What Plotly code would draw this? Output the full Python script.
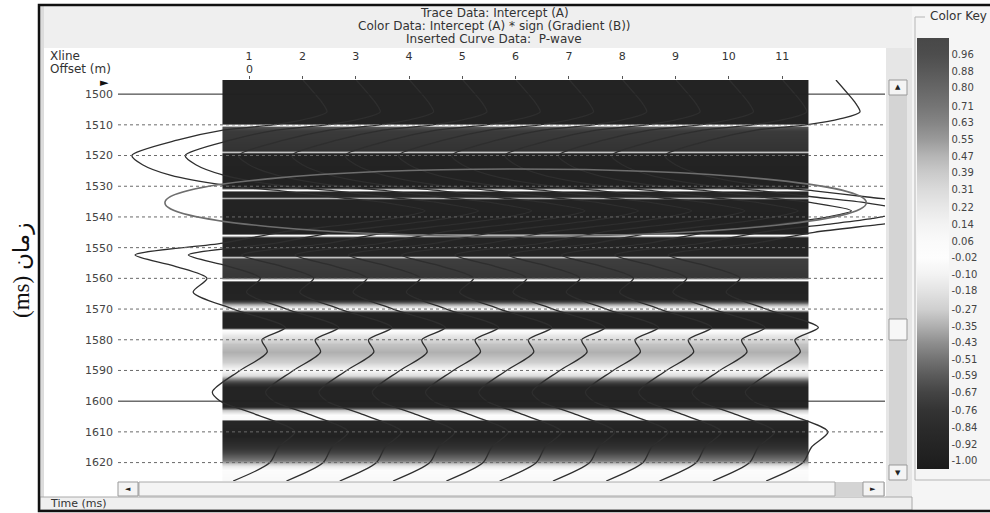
import plotly.graph_objects as go

W, H = 990, 513

# ---------------- data ----------------
xlines = list(range(1, 12))
offset_labels = ["0"]
y_ticks = [1500, 1510, 1520, 1530, 1540, 1550, 1560, 1570, 1580, 1590, 1600, 1610, 1620]
solid_ticks = [1500, 1600]
time_range = [1495.4, 1626.0]
xline_range = [-1.46, 12.93]

# wiggle (trace data: intercept) - same waveform on every xline, amplitude in xline units
trace_time = [1495.4, 1500, 1503, 1505.8, 1508, 1510, 1511.7, 1515, 1520, 1523, 1526.4, 1529.6,
              1531.5, 1533.5, 1535.5, 1538, 1540.5, 1542.5, 1545, 1548.5, 1552.4, 1556, 1560, 1564.5,
              1570, 1576, 1580, 1584, 1590, 1597, 1600, 1604, 1610, 1615, 1620, 1626]
trace_amp = [1.01, 1.24, 1.38, 1.46, 1.10, 0.45, -0.49, -1.35, -2.20, -2.00, -1.48, -0.49,
             0.6, 1.6, 2.6, 3.3, 2.7, 1.8, 0.6, -0.49, -2.14, -1.40, -0.79, -1.05,
             -0.30, 0.68, 0.24, 0.34, -0.17, -0.69, -0.54, 0.08, 0.86, 0.55, 0.39, -0.30]

# colour data: intercept * sign(gradient), per time sample
color_time = [1495.4, 1509.3, 1510.0, 1510.8, 1512.0, 1518.2, 1518.9, 1519.6, 1530.3, 1531.1,
              1531.9, 1533.2, 1533.9, 1534.6, 1545.2, 1545.9, 1546.7, 1552.3, 1552.9, 1553.6,
              1559.6, 1560.4, 1561.2, 1566.8, 1568.4, 1570.0, 1571.3, 1575.8, 1576.8, 1578.5,
              1581.5, 1584.0, 1587.2, 1589.9, 1591.5, 1593.5, 1595.5, 1601.5, 1603.0, 1604.6,
              1605.7, 1606.4, 1611.5, 1616.0, 1619.2, 1621.0, 1622.5, 1626.0]
color_val = [-0.95, -0.95, -0.03, -0.62, -0.72, -0.76, -0.30, -0.95, -0.96, -0.03,
             -0.93, -0.90, -0.35, -0.95, -0.96, -0.03, -0.93, -0.93, -0.30, -0.70,
             -0.74, -0.04, -0.96, -0.93, -0.40, -0.03, -0.95, -0.96, -0.02, -0.15,
             -0.30, -0.35, -0.27, -0.06, -0.20, -0.60, -0.93, -0.93, -0.30, -0.03,
             -0.05, -0.90, -0.96, -0.72, -0.50, -0.15, -0.03, -0.06]

key_ticks = [0.96, 0.88, 0.80, 0.71, 0.63, 0.55, 0.47, 0.39, 0.31, 0.22, 0.14, 0.06, -0.02,
             -0.10, -0.18, -0.27, -0.35, -0.43, -0.51, -0.59, -0.67, -0.76, -0.84, -0.92, -1.00]
key_labels = ["%.2f" % v for v in key_ticks]
key_range = [-1.04, 1.04]

highlight_time = [1524.4, 1546.3]
highlight_xline = [-0.58, 12.58]

title_lines = ["Trace Data: Intercept (A)",
               "Color Data: Intercept (A) * sign (Gradient (B))",
               "Inserted Curve Data:  P-wave"]

# ---------------- style ----------------
cs_vals = [-1.04, -1.0, -0.92, -0.84, -0.76, -0.67, -0.59, -0.51, -0.43, -0.35, -0.27, -0.18,
           -0.10, -0.02, 0.06, 0.14, 0.22, 0.31, 0.39, 0.47, 0.55, 0.63, 0.71, 0.80, 0.88, 0.96, 1.04]
cs_cols = ['#1b1b1b', '#1f1f1f', '#252525', '#2b2b2b', '#333333', '#444444', '#5a5a5a', '#737373',
           '#8f8f8f', '#b0b0b0', '#cfcfcf', '#e3e3e3', '#f3f3f3', '#fdfdfd', '#fafafa', '#f3f3f3',
           '#e8e8e8', '#dadada', '#cacaca', '#b5b5b5', '#9a9a9a', '#858585', '#757575', '#666666',
           '#595959', '#4d4d4d', '#484848']
colorscale = [[(v - key_range[0]) / (key_range[1] - key_range[0]), c] for v, c in zip(cs_vals, cs_cols)]

FONT = "DejaVu Sans"


def px(x):
    return x / W


def py(y):
    return 1 - y / H


fig = go.Figure()

x_edges = [x - 0.5 for x in xlines] + [xlines[-1] + 0.5]
fig.add_trace(go.Heatmap(
    x=x_edges, y=color_time, z=[[v] * len(xlines) for v in color_val],
    zmin=key_range[0], zmax=key_range[1], zsmooth='best', colorscale=colorscale,
    hoverinfo='skip',
    colorbar=dict(x=px(917), xanchor='left', y=py(38), yanchor='top',
                  thickness=32, thicknessmode='pixels', len=(469 - 38) / H, lenmode='fraction',
                  xpad=0, ypad=0, outlinewidth=0, ticks='',
                  tickvals=key_ticks, ticktext=key_labels,
                  tickfont=dict(family=FONT, size=10, color='#444'))
))

for xl in xlines:
    fig.add_trace(go.Scatter(
        x=[xl + a for a in trace_amp], y=trace_time, mode='lines',
        line=dict(color='#2e2e2e', width=1.3, shape='spline', smoothing=0.8),
        hoverinfo='skip', showlegend=False))

shapes = []
# background panels
shapes += [
    dict(type='rect', xref='paper', yref='paper', x0=px(40), x1=px(912), y0=py(6), y1=py(48),
         fillcolor='#efefef', line_width=0, layer='below'),
    dict(type='rect', xref='paper', yref='paper', x0=px(40), x1=px(44), y0=py(6), y1=py(510),
         fillcolor='#dcdcdc', line_width=0, layer='below'),
    dict(type='rect', xref='paper', yref='paper', x0=px(886), x1=px(912), y0=py(48), y1=py(497),
         fillcolor='#e6e6e6', line_width=0, layer='below'),
    dict(type='rect', xref='paper', yref='paper', x0=px(912), x1=px(995), y0=py(6), y1=py(510),
         fillcolor='#f5f5f5', line_width=0, layer='below'),
    dict(type='rect', xref='paper', yref='paper', x0=px(40), x1=px(912), y0=py(497), y1=py(510),
         fillcolor='#efefef', line=dict(color='#aaaaaa', width=1), layer='below'),
    # colour key group box
    dict(type='path', xref='paper', yref='paper',
         path=f"M {px(925)},{py(17)} L {px(915)},{py(17)} L {px(915)},{py(480)} L {px(995)},{py(480)}",
         line=dict(color='#b5b5b5', width=1), layer='below'),
    # vertical scrollbar
    dict(type='rect', xref='paper', yref='paper', x0=px(889), x1=px(907), y0=py(80), y1=py(480),
         fillcolor='#d4d4d4', line_width=0, layer='above'),
    dict(type='rect', xref='paper', yref='paper', x0=px(889), x1=px(907), y0=py(80), y1=py(95),
         fillcolor='#f4f4f4', line=dict(color='#999', width=1), layer='above'),
    dict(type='rect', xref='paper', yref='paper', x0=px(889), x1=px(907), y0=py(465), y1=py(480),
         fillcolor='#f4f4f4', line=dict(color='#999', width=1), layer='above'),
    dict(type='rect', xref='paper', yref='paper', x0=px(889), x1=px(907), y0=py(319), y1=py(340),
         fillcolor='#f7f7f7', line=dict(color='#999', width=1), layer='above'),
    # horizontal scrollbar
    dict(type='rect', xref='paper', yref='paper', x0=px(118), x1=px(885), y0=py(482), y1=py(496),
         fillcolor='#d4d4d4', line_width=0, layer='above'),
    dict(type='rect', xref='paper', yref='paper', x0=px(139), x1=px(835), y0=py(482), y1=py(496),
         fillcolor='#f4f4f4', line=dict(color='#aaa', width=1), layer='above'),
    dict(type='rect', xref='paper', yref='paper', x0=px(118), x1=px(138), y0=py(482), y1=py(496),
         fillcolor='#f4f4f4', line=dict(color='#999', width=1), layer='above'),
    dict(type='rect', xref='paper', yref='paper', x0=px(863), x1=px(884), y0=py(482), y1=py(496),
         fillcolor='#f4f4f4', line=dict(color='#999', width=1), layer='above'),
    # outer border
    dict(type='rect', xref='paper', yref='paper', x0=px(39), x1=px(1000), y0=py(5), y1=py(511),
         line=dict(color='#111', width=2.5), layer='above'),
]
# horizontal time lines
for t in y_ticks:
    solid = t in solid_ticks
    shapes.append(dict(type='line', xref='paper', yref='y', x0=px(118), x1=px(885), y0=t, y1=t,
                       line=dict(color='#222' if solid else '#6a6a6a', width=1,
                                 dash='solid' if solid else 'dot'), layer='above'))
# highlight ellipse
shapes.append(dict(type='circle', xref='x', yref='y', x0=highlight_xline[0], x1=highlight_xline[1],
                   y0=highlight_time[0], y1=highlight_time[1],
                   line=dict(color='#6e6e6e', width=1.6), layer='above'))

ann = []
for i, s in enumerate(title_lines):
    ann.append(dict(text=s, x=px(494), y=py(13 + 13 * i), xref='paper', yref='paper',
                    xanchor='center', yanchor='middle', showarrow=False,
                    font=dict(family=FONT, size=12, color='#333')))
ann += [
    dict(text='Xline', x=px(48), y=py(56), xanchor='left', font=dict(family=FONT, size=12, color='#333')),
    dict(text='Offset (m)', x=px(48), y=py(69), xanchor='left', font=dict(family=FONT, size=12, color='#333')),
    dict(text='Time (ms)', x=px(48), y=py(503), xanchor='left', font=dict(family=FONT, size=11, color='#333')),
    dict(text='Color Key', x=px(928), y=py(16), xanchor='left', font=dict(family=FONT, size=12, color='#333')),
    dict(text='►', x=px(104), y=py(83), font=dict(family=FONT, size=11, color='#111')),
    dict(text='◄', x=px(128), y=py(489), font=dict(family=FONT, size=7, color='#222')),
    dict(text='►', x=px(873), y=py(489), font=dict(family=FONT, size=7, color='#222')),
    dict(text='▲', x=px(898), y=py(87.5), font=dict(family=FONT, size=7, color='#222')),
    dict(text='▼', x=px(898), y=py(472.5), font=dict(family=FONT, size=7, color='#222')),
    dict(text='\u202Bزمان (ms)\u202C', x=px(22), y=py(271), textangle=-90,
         font=dict(family='Liberation Serif, DejaVu Sans', size=23, color='#111')),
]
for a in ann:
    a.setdefault('xref', 'paper')
    a.setdefault('yref', 'paper')
    a.setdefault('xanchor', 'center')
    a.setdefault('yanchor', 'middle')
    a.setdefault('showarrow', False)
    a.setdefault('font', dict(family=FONT, size=10, color='#333'))
for xl, lab in zip(xlines, offset_labels):
    ann.append(dict(text=lab, x=xl, y=py(69), xref='x', yref='paper', showarrow=False,
                    xanchor='center', yanchor='middle', font=dict(family=FONT, size=11, color='#333')))

fig.update_layout(
    width=W, height=H,
    margin=dict(l=0, r=0, t=0, b=0, autoexpand=False),
    paper_bgcolor='white', plot_bgcolor='white',
    showlegend=False,
    shapes=shapes, annotations=ann,
    xaxis=dict(domain=[px(118), px(885)], range=xline_range, side='top',
               tickmode='array', tickvals=xlines, ticktext=[str(x) for x in xlines],
               ticks='outside', ticklen=3, tickcolor='#555', ticklabelstandoff=12,
               tickfont=dict(family=FONT, size=11, color='#333'),
               showgrid=False, zeroline=False, showline=False),
    yaxis=dict(domain=[py(481), py(80)], range=[time_range[1], time_range[0]],
               tickmode='array', tickvals=y_ticks, ticks='', ticklabelstandoff=4,
               tickfont=dict(family=FONT, size=11, color='#444'),
               showgrid=False, zeroline=False, showline=False),
)

fig.write_html("out.html")
